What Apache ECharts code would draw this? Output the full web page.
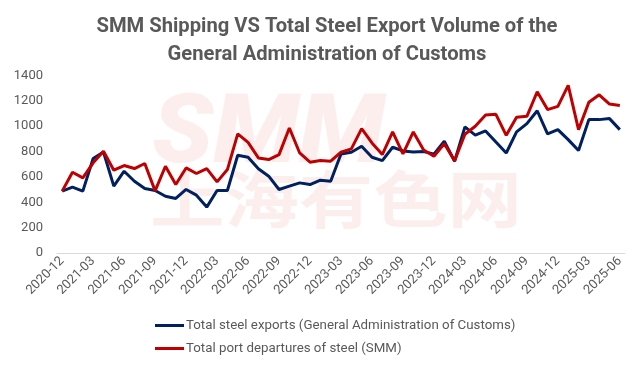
<!DOCTYPE html>
<html>
<head>
<meta charset="utf-8">
<script src="https://cdn.jsdelivr.net/npm/echarts@6/dist/echarts.min.js"></script>
<style>html,body{margin:0;padding:0;background:#fff;}#chart{width:643px;height:369px;}</style>
</head>
<body>
<div id="chart"></div>
<script>
const titleText = 'SMM Shipping VS Total Steel Export Volume of the\nGeneral Administration of Customs';
const seriesNames = ['Total steel exports (General Administration of Customs)', 'Total port departures of steel (SMM)'];
const months = [
  '2020-12','2021-01','2021-02','2021-03','2021-04','2021-05','2021-06','2021-07','2021-08','2021-09','2021-10','2021-11',
  '2021-12','2022-01','2022-02','2022-03','2022-04','2022-05','2022-06','2022-07','2022-08','2022-09','2022-10','2022-11',
  '2022-12','2023-01','2023-02','2023-03','2023-04','2023-05','2023-06','2023-07','2023-08','2023-09','2023-10','2023-11',
  '2023-12','2024-01','2024-02','2024-03','2024-04','2024-05','2024-06','2024-07','2024-08','2024-09','2024-10','2024-11',
  '2024-12','2025-01','2025-02','2025-03','2025-04','2025-05','2025-06'
];
const customsExports = [
  488, 519, 488, 745, 797, 527, 645, 566, 509, 493, 448, 430,
  501, 456, 362, 493, 493, 771, 755, 664, 606, 501, 527, 553,
  540, 574, 566, 781, 795, 842, 755, 729, 834, 805, 797, 800,
  780, 881, 724, 995, 930, 963, 875, 789, 955, 1020, 1122, 939,
  973, 894, 808, 1052, 1052, 1060, 973
];
const smmDepartures = [
  488, 637, 593, 711, 802, 653, 690, 666, 706, 490, 684, 540,
  671, 627, 666, 561, 658, 939, 872, 750, 737, 776, 986, 789,
  716, 729, 724, 795, 821, 981, 868, 776, 955, 781, 955, 812,
  763, 862, 727, 937, 1000, 1088, 1094, 928, 1070, 1078, 1272, 1131,
  1157, 1322, 973, 1189, 1248, 1175, 1164
];
const yTicks = { min: 0, max: 1400, interval: 200 };
const watermarkLogo = 'SMM';
const watermarkName = '上海有色网';

const chart = echarts.init(document.getElementById('chart'), null, { renderer: 'canvas' });
const grey = '#595959';
const wmColor = 'rgba(230,0,0,0.065)';
chart.setOption({
  animation: false,
  backgroundColor: '#ffffff',
  title: {
    text: titleText,
    left: 327,
    textAlign: 'center',
    top: 13,
    padding: 0,
    textStyle: { fontFamily: 'Roboto', fontWeight: 'bold', fontSize: 20.2, lineHeight: 28, color: grey }
  },
  graphic: [
    { type: 'text', z: -10, left: 152, top: 90, scaleX: 1.05,
      style: { text: watermarkLogo, fontFamily: 'Roboto', fontWeight: 900, fontStyle: 'italic', fontSize: 96, fill: wmColor } },
    { type: 'text', z: -10, left: 150, top: 168, scaleX: 1.2,
      style: { text: watermarkName, fontFamily: 'Noto Sans CJK SC', fontWeight: 'bold', fontSize: 62, fill: wmColor } }
  ],
  legend: {
    orient: 'vertical',
    left: 150,
    top: 314,
    itemWidth: 29,
    itemHeight: 3,
    itemGap: 10,
    icon: 'rect',
    textStyle: { fontFamily: 'Roboto', fontSize: 13.3, color: grey, padding: [0, 0, 0, -3] },
    data: seriesNames
  },
  grid: { left: 57, right: 18, top: 75.5, bottom: 116 },
  xAxis: {
    type: 'category',
    data: months,
    boundaryGap: true,
    axisLine: { lineStyle: { color: '#d9d9d9', width: 1 } },
    axisTick: { interval: 2, length: 5, lineStyle: { color: '#d9d9d9' } },
    axisLabel: { interval: 2, rotate: 45, margin: 6, fontFamily: 'Roboto', fontSize: 13, color: grey }
  },
  yAxis: {
    type: 'value',
    min: yTicks.min, max: yTicks.max, interval: yTicks.interval,
    splitLine: { show: false },
    axisLine: { show: false },
    axisTick: { show: false },
    axisLabel: { margin: 14, fontFamily: 'Roboto', fontSize: 13, color: grey, formatter: function (v) { return String(v); } }
  },
  series: [
    { name: seriesNames[0], type: 'line', data: customsExports, showSymbol: false, symbol: 'none',
      lineStyle: { color: '#002060', width: 3 }, itemStyle: { color: '#002060' }, z: 3 },
    { name: seriesNames[1], type: 'line', data: smmDepartures, showSymbol: false, symbol: 'none',
      lineStyle: { color: '#C00000', width: 3 }, itemStyle: { color: '#C00000' }, z: 4 }
  ]
});
</script>
</body>
</html>
